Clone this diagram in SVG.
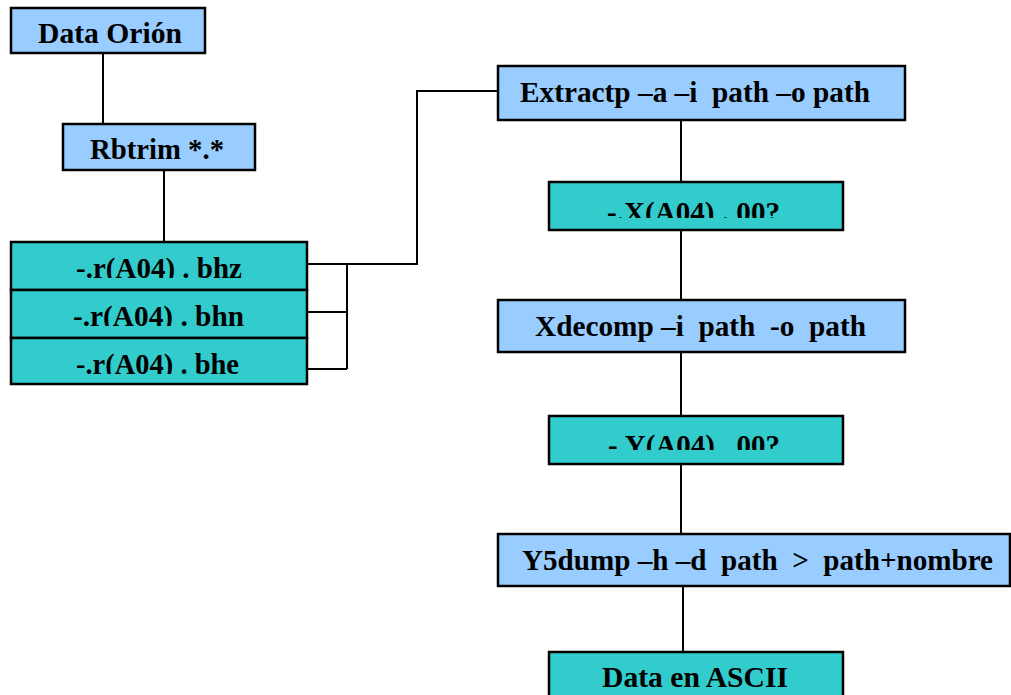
<svg xmlns="http://www.w3.org/2000/svg" width="1011" height="695" viewBox="0 0 1011 695">
<style>
.blue{fill:#99CCFF;stroke:#000;stroke-width:2.5}
.teal{fill:#33CCCC;stroke:#000;stroke-width:2.5}
.t{font-family:"Liberation Serif","Times New Roman",serif;font-weight:bold;font-size:29px;fill:#000;white-space:pre}
.c{fill:none;stroke:#000;stroke-width:2}
</style>
<defs>
<clipPath id="cr1"><rect x="11" y="242" width="296" height="36"/></clipPath>
<clipPath id="cr2"><rect x="11" y="290" width="296" height="36"/></clipPath>
<clipPath id="cr3"><rect x="11" y="338" width="296" height="36"/></clipPath>
<clipPath id="cx"><rect x="549" y="182" width="294" height="36"/></clipPath>
<clipPath id="cy"><rect x="549" y="416" width="294" height="34"/></clipPath>
</defs>
<rect width="1011" height="695" fill="#fff"/>
<g id="connectors">
<path class="c" d="M103,53 V124"/>
<path class="c" d="M164,170 V242"/>
<path class="c" d="M307,264 H417 V91 H498"/>
<path class="c" d="M347,264 V369 M307,312 H347 M307,369 H347"/>
<path class="c" d="M681,117 V182"/>
<path class="c" d="M681,230 V300"/>
<path class="c" d="M681,352 V416"/>
<path class="c" d="M681,464 V534"/>
<path class="c" d="M683,583 V652"/>
</g>
<g id="data-orion">
<rect class="blue" x="11" y="8" width="194" height="45"/>
<text class="t" x="38" y="43" textLength="144" lengthAdjust="spacingAndGlyphs">Data Orión</text>
</g>
<g id="rbtrim">
<rect class="blue" x="63" y="124" width="192" height="46"/>
<text class="t" x="90" y="159" textLength="134" lengthAdjust="spacingAndGlyphs">Rbtrim *.*</text>
</g>
<g id="bhz">
<rect class="teal" x="11" y="242" width="296" height="48"/>
<text class="t" x="76" y="278" textLength="166" lengthAdjust="spacingAndGlyphs" clip-path="url(#cr1)">-.r(A04) . bhz</text>
</g>
<g id="bhn">
<rect class="teal" x="11" y="290" width="296" height="48"/>
<text class="t" x="73" y="326" textLength="171" lengthAdjust="spacingAndGlyphs" clip-path="url(#cr2)">-.r(A04) . bhn</text>
</g>
<g id="bhe">
<rect class="teal" x="11" y="338" width="296" height="46"/>
<text class="t" x="76" y="374" textLength="163" lengthAdjust="spacingAndGlyphs" clip-path="url(#cr3)">-.r(A04) . bhe</text>
</g>
<g id="extractp">
<rect class="blue" x="498" y="66" width="407" height="54"/>
<text class="t" x="520" y="102" textLength="350" lengthAdjust="spacingAndGlyphs">Extractp –a –i  path –o path</text>
</g>
<g id="x-file">
<rect class="teal" x="549" y="182" width="294" height="48"/>
<text class="t" x="607" y="222" textLength="173" lengthAdjust="spacingAndGlyphs" clip-path="url(#cx)">-.X(A04) . 00?</text>
</g>
<g id="xdecomp">
<rect class="blue" x="498" y="300" width="407" height="52"/>
<text class="t" x="535" y="336" textLength="331" lengthAdjust="spacingAndGlyphs">Xdecomp –i  path  -o  path</text>
</g>
<g id="y-file">
<rect class="teal" x="549" y="416" width="294" height="48"/>
<text class="t" x="608" y="455" textLength="172" lengthAdjust="spacingAndGlyphs" clip-path="url(#cy)">-.Y(A04) . 00?</text>
</g>
<g id="y5dump">
<rect class="blue" x="498" y="534" width="512" height="52"/>
<text class="t" x="522" y="570" textLength="471" lengthAdjust="spacingAndGlyphs">Y5dump –h –d  path  &gt;  path+nombre</text>
</g>
<g id="ascii">
<rect class="teal" x="549" y="652" width="294" height="60"/>
<text class="t" x="602" y="687" textLength="186" lengthAdjust="spacingAndGlyphs">Data en ASCII</text>
</g>
</svg>
